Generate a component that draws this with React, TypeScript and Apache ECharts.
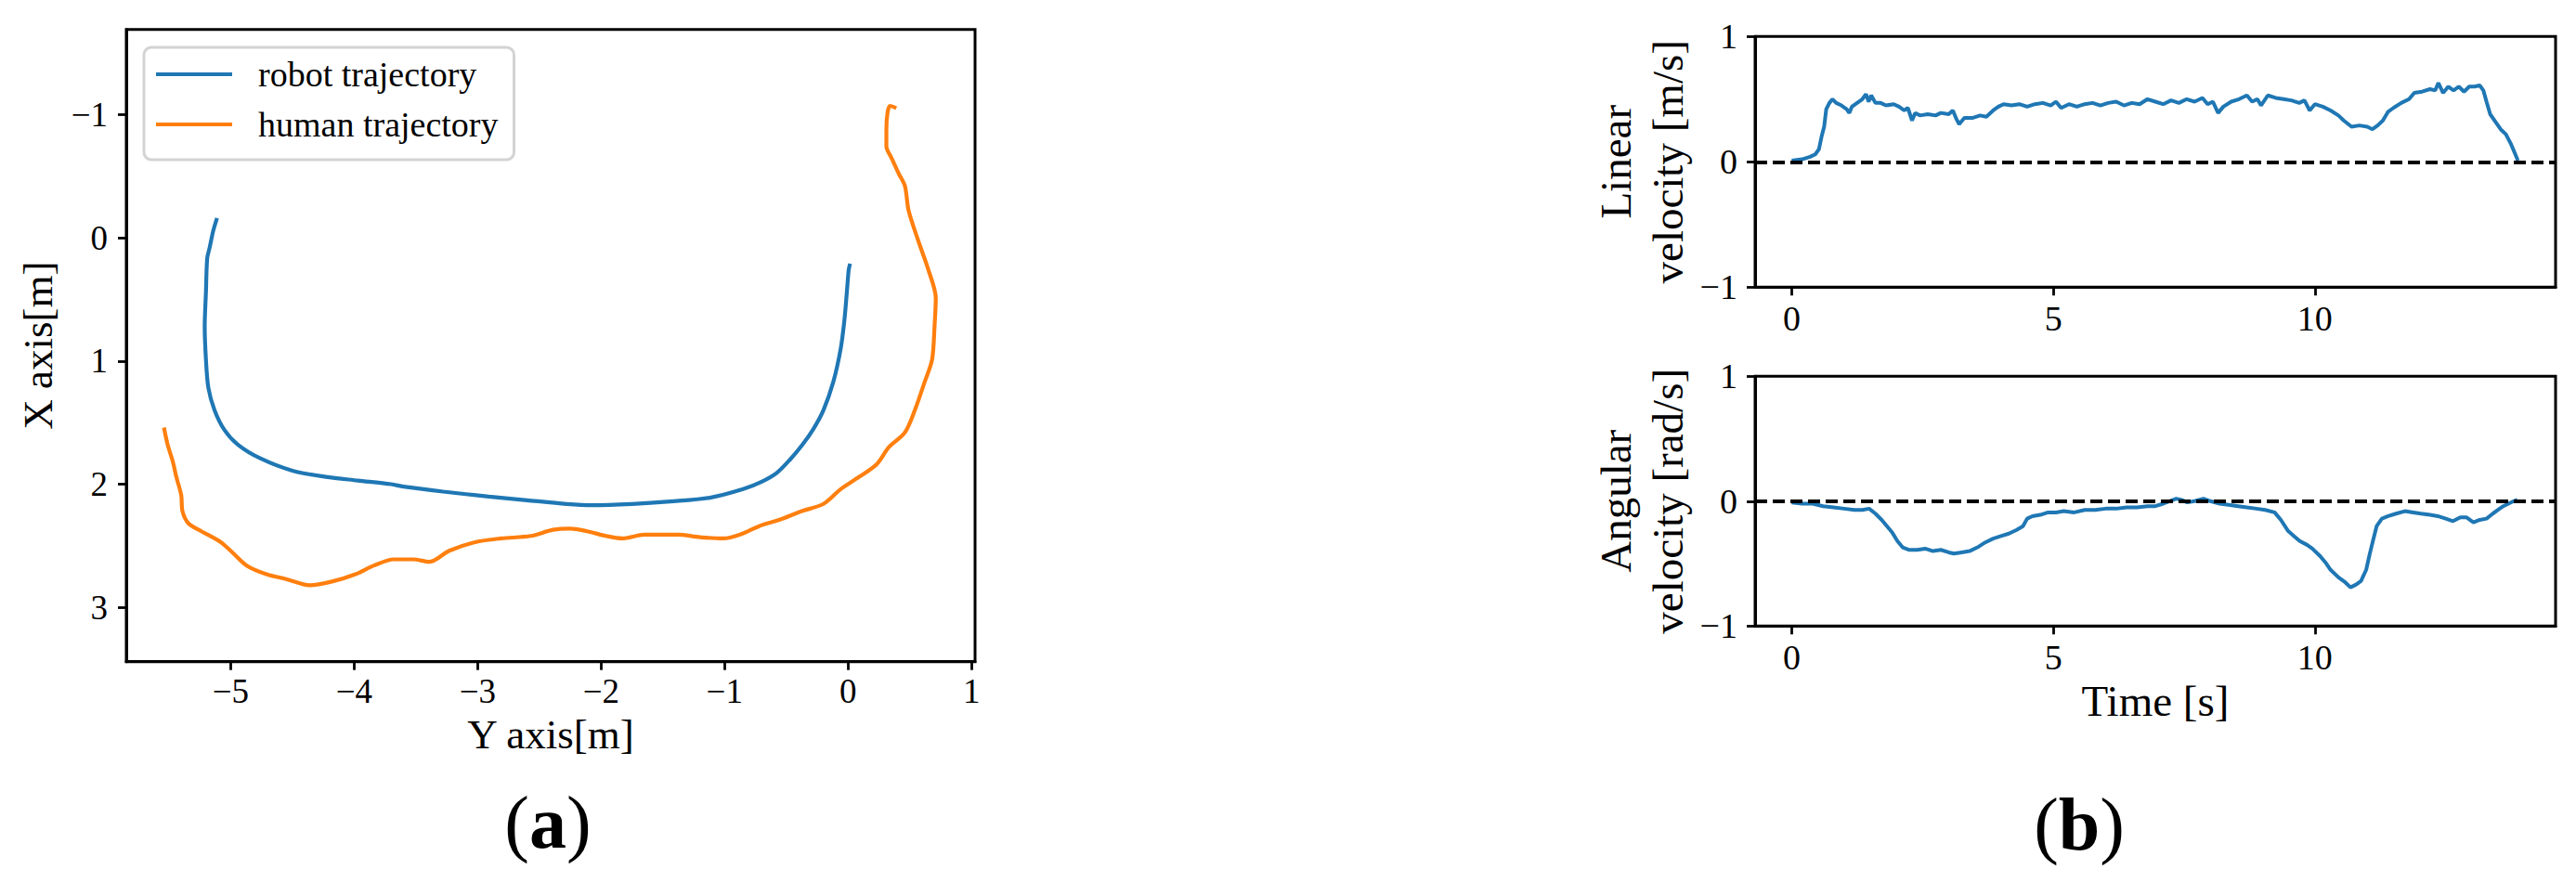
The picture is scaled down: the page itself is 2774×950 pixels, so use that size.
import React, { useEffect, useRef } from "react";
import * as echarts from "echarts";

const FONT = '"Liberation Serif", "Times New Roman", Times, serif';

// Panel (a): trajectories, [Y axis value, X axis value]
const robotTrajectory: [number, number][] = [
  [-5.11, -0.16], [-5.14, -0.06], [-5.17, 0.08], [-5.19, 0.17], [-5.2, 0.44], [-5.21, 0.72],
  [-5.2, 0.99], [-5.18, 1.22], [-5.13, 1.4], [-5.05, 1.56], [-4.94, 1.68], [-4.76, 1.79],
  [-4.5, 1.89], [-4.23, 1.94], [-3.97, 1.97], [-3.7, 2.0], [-3.6, 2.02], [-3.28, 2.06],
  [-2.91, 2.1], [-2.6, 2.13], [-2.28, 2.16], [-2.07, 2.17], [-1.75, 2.16], [-1.44, 2.14],
  [-1.12, 2.11], [-0.85, 2.04], [-0.7, 1.98], [-0.58, 1.91], [-0.47, 1.8], [-0.37, 1.68],
  [-0.28, 1.55], [-0.2, 1.4], [-0.12, 1.17], [-0.06, 0.9], [-0.03, 0.67], [-0.01, 0.44],
  [0.005, 0.26], [0.016, 0.21],
];

const humanTrajectory: [number, number][] = [
  [-5.54, 1.54], [-5.51, 1.68], [-5.47, 1.81], [-5.44, 1.94], [-5.4, 2.09], [-5.39, 2.22],
  [-5.34, 2.32], [-5.24, 2.38], [-5.08, 2.47], [-5.0, 2.54], [-4.87, 2.66], [-4.71, 2.73],
  [-4.55, 2.77], [-4.36, 2.82], [-4.18, 2.79], [-3.99, 2.73], [-3.84, 2.66], [-3.68, 2.61],
  [-3.52, 2.61], [-3.39, 2.63], [-3.23, 2.54], [-3.02, 2.47], [-2.81, 2.44], [-2.57, 2.42],
  [-2.39, 2.37], [-2.25, 2.36], [-2.12, 2.38], [-1.96, 2.42], [-1.83, 2.44], [-1.65, 2.41],
  [-1.38, 2.41], [-1.2, 2.43], [-1.01, 2.44], [-0.88, 2.41], [-0.72, 2.34], [-0.56, 2.29],
  [-0.38, 2.22], [-0.2, 2.16], [-0.06, 2.04], [0.09, 1.94], [0.23, 1.84], [0.33, 1.7],
  [0.46, 1.58], [0.54, 1.4], [0.62, 1.17], [0.68, 0.99], [0.7, 0.72], [0.71, 0.49],
  [0.65, 0.26], [0.57, 0.03], [0.49, -0.22], [0.46, -0.42], [0.41, -0.52], [0.35, -0.65],
  [0.31, -0.74], [0.31, -0.88], [0.32, -1.02], [0.34, -1.07], [0.39, -1.05],
];

// Panel (b): [time s, velocity]
const linearVelocity: [number, number][] = [
  [0.0, 0.01], [0.2, 0.02], [0.35, 0.04], [0.45, 0.06], [0.52, 0.1], [0.57, 0.2], [0.62, 0.28],
  [0.66, 0.42], [0.72, 0.47], [0.78, 0.5], [0.85, 0.47], [0.95, 0.45], [1.05, 0.42], [1.1, 0.39],
  [1.15, 0.44], [1.25, 0.47], [1.35, 0.5], [1.42, 0.54], [1.47, 0.48], [1.52, 0.53], [1.6, 0.47],
  [1.7, 0.47], [1.8, 0.45], [1.95, 0.46], [2.05, 0.44], [2.15, 0.41], [2.22, 0.43], [2.3, 0.33],
  [2.36, 0.39], [2.45, 0.37], [2.6, 0.38], [2.75, 0.37], [2.85, 0.39], [3.0, 0.38], [3.08, 0.41],
  [3.15, 0.34], [3.2, 0.3], [3.3, 0.35], [3.45, 0.35], [3.6, 0.37], [3.72, 0.36], [3.85, 0.41],
  [3.95, 0.44], [4.05, 0.46], [4.2, 0.45], [4.35, 0.46], [4.5, 0.44], [4.65, 0.46], [4.8, 0.47],
  [4.95, 0.45], [5.05, 0.48], [5.15, 0.43], [5.3, 0.46], [5.45, 0.44], [5.6, 0.46], [5.75, 0.47],
  [5.9, 0.45], [6.05, 0.47], [6.2, 0.48], [6.35, 0.45], [6.5, 0.47], [6.65, 0.46], [6.8, 0.5],
  [6.95, 0.48], [7.1, 0.46], [7.25, 0.49], [7.4, 0.47], [7.55, 0.5], [7.7, 0.48], [7.85, 0.51],
  [7.95, 0.46], [8.05, 0.48], [8.15, 0.39], [8.25, 0.44], [8.4, 0.48], [8.55, 0.5], [8.7, 0.53],
  [8.8, 0.48], [8.9, 0.5], [8.97, 0.45], [9.1, 0.53], [9.25, 0.51], [9.4, 0.5], [9.55, 0.49],
  [9.7, 0.47], [9.8, 0.49], [9.9, 0.41], [10.0, 0.46], [10.15, 0.44], [10.3, 0.41], [10.45, 0.37],
  [10.55, 0.33], [10.7, 0.28], [10.85, 0.29], [11.0, 0.28], [11.1, 0.26], [11.2, 0.29], [11.3, 0.33],
  [11.4, 0.4], [11.5, 0.43], [11.65, 0.47], [11.8, 0.5], [11.9, 0.55], [12.05, 0.56], [12.2, 0.58],
  [12.3, 0.57], [12.36, 0.63], [12.45, 0.55], [12.55, 0.6], [12.65, 0.57], [12.75, 0.6], [12.85, 0.56],
  [12.95, 0.6], [13.05, 0.6], [13.15, 0.61], [13.22, 0.57], [13.28, 0.48], [13.35, 0.38], [13.45, 0.32],
  [13.55, 0.26], [13.65, 0.22], [13.75, 0.14], [13.82, 0.07], [13.88, 0.01],
];

const angularVelocity: [number, number][] = [
  [0, -0.01], [0.2, -0.02], [0.4, -0.02], [0.6, -0.04], [0.8, -0.05], [1.0, -0.06], [1.2, -0.07],
  [1.35, -0.07], [1.48, -0.06], [1.6, -0.1], [1.72, -0.15], [1.82, -0.2], [1.92, -0.25], [2.02, -0.32],
  [2.12, -0.37], [2.25, -0.39], [2.4, -0.39], [2.55, -0.38], [2.7, -0.4], [2.85, -0.39], [3.0, -0.41],
  [3.1, -0.42], [3.25, -0.41], [3.4, -0.4], [3.55, -0.37], [3.7, -0.33], [3.85, -0.3], [4.0, -0.28],
  [4.15, -0.26], [4.3, -0.23], [4.42, -0.2], [4.5, -0.14], [4.6, -0.12], [4.75, -0.11], [4.9, -0.09],
  [5.05, -0.09], [5.2, -0.08], [5.4, -0.09], [5.6, -0.07], [5.8, -0.07], [6.0, -0.06], [6.2, -0.06],
  [6.4, -0.05], [6.6, -0.05], [6.8, -0.04], [6.95, -0.04], [7.1, -0.02], [7.22, 0.0], [7.35, 0.02],
  [7.45, 0.01], [7.56, -0.01], [7.7, 0.0], [7.87, 0.02], [8.0, 0.0], [8.18, -0.02], [8.35, -0.03],
  [8.53, -0.04], [8.7, -0.05], [8.88, -0.06], [9.05, -0.07], [9.23, -0.09], [9.35, -0.15], [9.49, -0.24],
  [9.6, -0.28], [9.71, -0.32], [9.85, -0.35], [9.95, -0.38], [10.1, -0.44], [10.2, -0.49], [10.3, -0.55],
  [10.45, -0.61], [10.58, -0.65], [10.68, -0.69], [10.78, -0.67], [10.88, -0.64], [10.98, -0.55],
  [11.05, -0.42], [11.12, -0.3], [11.18, -0.2], [11.28, -0.14], [11.4, -0.12], [11.55, -0.1],
  [11.72, -0.08], [11.88, -0.09], [12.03, -0.1], [12.2, -0.11], [12.35, -0.12], [12.5, -0.14],
  [12.64, -0.16], [12.78, -0.13], [12.9, -0.13], [13.03, -0.17], [13.15, -0.15], [13.28, -0.14],
  [13.4, -0.1], [13.5, -0.07], [13.6, -0.04], [13.7, -0.02], [13.8, 0.0], [13.87, 0.01],
];

const aXTicks = [-5, -4, -3, -2, -1, 0, 1];
const aYTicks = [-1, 0, 1, 2, 3];
const bXTicks = [0, 5, 10];
const bYTicks = [-1, 0, 1];
const legendNames = ["robot trajectory", "human trajectory"];

const BLUE = "#1f77b4";
const ORANGE = "#ff7f0e";

const fmt = (v: number) => (v < 0 ? "\u2212" + Math.abs(v) : String(v));

function tickCfg(values: number[]) {
  return {
    show: true,
    inside: false,
    length: 9,
    lineStyle: { color: "#000", width: 2.8 },
    customValues: values,
  };
}
function labelCfg(values: number[], size: number, margin: number) {
  return {
    customValues: values,
    formatter: (v: number) => fmt(v),
    fontSize: size,
    fontFamily: FONT,
    color: "#000",
    margin,
  };
}
const nameStyle = (size: number, lh?: number) => ({
  fontSize: size,
  fontFamily: FONT,
  color: "#000",
  ...(lh ? { lineHeight: lh } : {}),
});
const axLine = { show: true, onZero: false, lineStyle: { color: "#000", width: 3 } };

export default function App() {
  const ref = useRef<HTMLDivElement>(null);
  useEffect(() => {
    if (!ref.current) return;
    const chart = echarts.init(ref.current, null, { renderer: "svg" });
    const gridBase = { show: true, borderColor: "#000", borderWidth: 3, backgroundColor: "transparent" };
    const option: any = {
      animation: false,
      backgroundColor: "#fff",
      grid: [
        { ...gridBase, left: 136, top: 31.7, width: 914, height: 681 },
        { ...gridBase, left: 1890, top: 39.3, width: 862, height: 270 },
        { ...gridBase, left: 1890, top: 405.3, width: 862, height: 269 },
      ],
      xAxis: [
        {
          gridIndex: 0, type: "value", position: "bottom", min: -5.845, max: 1.028,
          axisLine: axLine, splitLine: { show: false },
          axisTick: tickCfg(aXTicks), axisLabel: labelCfg(aXTicks, 37, 13),
          name: "Y axis[m]", nameLocation: "middle", nameGap: 56, nameTextStyle: nameStyle(45),
        },
        {
          gridIndex: 1, type: "value", position: "bottom", min: -0.7, max: 14.6,
          axisLine: axLine, splitLine: { show: false },
          axisTick: tickCfg(bXTicks), axisLabel: labelCfg(bXTicks, 38, 15),
        },
        {
          gridIndex: 2, type: "value", position: "bottom", min: -0.7, max: 14.6,
          axisLine: axLine, splitLine: { show: false },
          axisTick: tickCfg(bXTicks), axisLabel: labelCfg(bXTicks, 38, 15),
          name: "Time [s]", nameLocation: "middle", nameGap: 57, nameTextStyle: nameStyle(47),
        },
      ],
      yAxis: [
        {
          gridIndex: 0, type: "value", position: "left", inverse: true, min: -1.69, max: 3.44,
          axisLine: axLine, splitLine: { show: false },
          axisTick: tickCfg(aYTicks), axisLabel: labelCfg(aYTicks, 37, 20),
          name: "X axis[m]", nameLocation: "middle", nameGap: 73, nameTextStyle: nameStyle(45),
        },
        {
          gridIndex: 1, type: "value", position: "left", min: -1, max: 1,
          axisLine: axLine, splitLine: { show: false },
          axisTick: tickCfg(bYTicks), axisLabel: labelCfg(bYTicks, 38, 19),
          name: "Linear\nvelocity [m/s]", nameLocation: "middle", nameGap: 66, nameTextStyle: nameStyle(47, 56),
        },
        {
          gridIndex: 2, type: "value", position: "left", min: -1, max: 1,
          axisLine: axLine, splitLine: { show: false },
          axisTick: tickCfg(bYTicks), axisLabel: labelCfg(bYTicks, 38, 19),
          name: "Angular\nvelocity [rad/s]", nameLocation: "middle", nameGap: 66, nameTextStyle: nameStyle(47, 56),
        },
      ],
      legend: {
        data: legendNames,
        orient: "vertical",
        left: 155,
        top: 51,
        padding: [9, 17, 18, 13],
        itemGap: 14,
        itemWidth: 105,
        itemHeight: 4.4,
        icon: "path://M0 0H82V4H0Z M104 0L105 0Z",
        backgroundColor: "#fff",
        borderColor: "#d3d3d3",
        borderWidth: 3,
        borderRadius: 8,
        selectedMode: false,
        textStyle: { fontSize: 38, fontFamily: FONT, color: "#000", lineHeight: 40 },
      },
      series: [
        {
          name: legendNames[0], type: "line", xAxisIndex: 0, yAxisIndex: 0,
          data: robotTrajectory, showSymbol: false, symbol: "none", smooth: 0.3,
          color: BLUE, lineStyle: { color: BLUE, width: 4.2 },
        },
        {
          name: legendNames[1], type: "line", xAxisIndex: 0, yAxisIndex: 0,
          data: humanTrajectory, showSymbol: false, symbol: "none", smooth: 0.3,
          color: ORANGE, lineStyle: { color: ORANGE, width: 4.2 },
        },
        {
          name: "Linear velocity", type: "line", xAxisIndex: 1, yAxisIndex: 1,
          data: linearVelocity, showSymbol: false, symbol: "none",
          color: BLUE, lineStyle: { color: BLUE, width: 4 },
          markLine: {
            silent: true, symbol: ["none", "none"], label: { show: false },
            lineStyle: { color: "#000", type: [13, 6], width: 4 },
            data: [{ yAxis: 0 }],
          },
        },
        {
          name: "Angular velocity", type: "line", xAxisIndex: 2, yAxisIndex: 2,
          data: angularVelocity, showSymbol: false, symbol: "none",
          color: BLUE, lineStyle: { color: BLUE, width: 4 },
          markLine: {
            silent: true, symbol: ["none", "none"], label: { show: false },
            lineStyle: { color: "#000", type: [13, 6], width: 4 },
            data: [{ yAxis: 0 }],
          },
        },
      ],
      graphic: [
        {
          type: "text", x: 590, y: 886,
          style: {
            text: "({b|a})", fontSize: 80, fontFamily: FONT, fill: "#000",
            align: "center", verticalAlign: "middle",
            rich: { b: { fontSize: 80, fontFamily: FONT, fontWeight: "bold", fill: "#000" } },
          },
        },
        {
          type: "text", x: 2239, y: 888,
          style: {
            text: "({b|b})", fontSize: 80, fontFamily: FONT, fill: "#000",
            align: "center", verticalAlign: "middle",
            rich: { b: { fontSize: 80, fontFamily: FONT, fontWeight: "bold", fill: "#000" } },
          },
        },
      ],
    };
    chart.setOption(option);
    return () => chart.dispose();
  }, []);
  return (
    <div
      ref={ref}
      style={{ position: "absolute", left: 0, top: 0, width: 2774, height: 950, background: "#fff" }}
    />
  );
}
